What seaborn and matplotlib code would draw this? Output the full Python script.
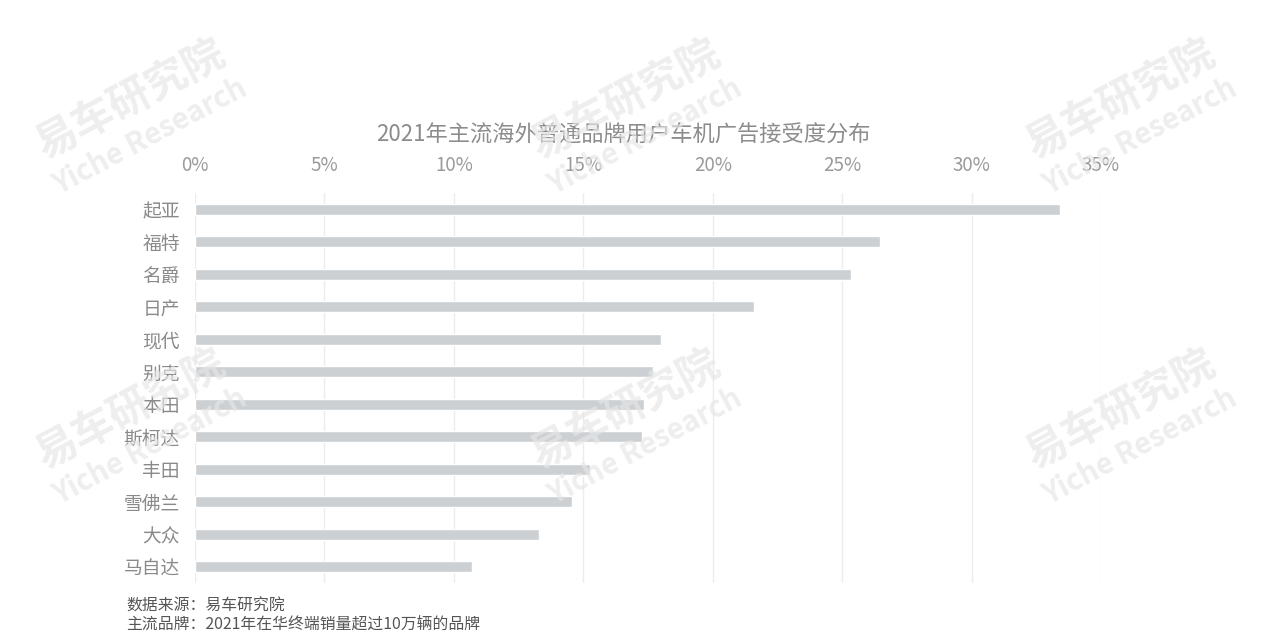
import matplotlib
matplotlib.use("Agg")
import matplotlib.pyplot as plt
import seaborn as sns
import pandas as pd

# data
brands = ["起亚", "福特", "名爵", "日产", "现代", "别克", "本田", "斯柯达", "丰田", "雪佛兰", "大众", "马自达"]
share = [33.4, 26.45, 25.35, 21.6, 18.0, 17.7, 17.35, 17.25, 15.25, 14.55, 13.3, 10.7]
ticks = [0, 5, 10, 15, 20, 25, 30, 35]
tick_labels = ["0%", "5%", "10%", "15%", "20%", "25%", "30%", "35%"]

df = pd.DataFrame({"brand": brands, "share": share})

sns.set_style("white")
plt.rcParams["font.family"] = ["Noto Sans CJK SC", "DejaVu Sans"]

fig = plt.figure(figsize=(12.69, 6.42), dpi=100)
ax = fig.add_axes([195 / 1269, 1 - 583 / 642, (1101 - 195) / 1269, (583 - 193) / 642])

sns.barplot(data=df, x="share", y="brand", color="#cdd0d3", saturation=1, width=0.34, ax=ax, zorder=2)

ax.set_xlim(0, 35)
ax.set_xticks(ticks)
ax.set_xticklabels(tick_labels)
ax.xaxis.tick_top()
ax.tick_params(axis="x", length=0, pad=12, labelsize=13.5, labelcolor="#9a9a9a")
ax.tick_params(axis="y", length=0, pad=11, labelsize=13.5, labelcolor="#8a8a8a")
ax.grid(axis="x", color="#ececec", linewidth=1, zorder=0)
ax.set_axisbelow(True)
ax.set_xlabel("")
ax.set_ylabel("")
for s in ax.spines.values():
    s.set_visible(False)

fig.text(623 / 1269, 1 - 135 / 642, "2021年主流海外普通品牌用户车机广告接受度分布",
         ha="center", va="center", fontsize=16, color="#8c8c8c")

fig.text(126 / 1269, 1 - 606 / 642, "数据来源：易车研究院", ha="left", va="center", fontsize=11.4, color="#555555")
fig.text(126 / 1269, 1 - 624 / 642, "主流品牌：2021年在华终端销量超过10万辆的品牌", ha="left", va="center", fontsize=11.4, color="#555555")

# watermark, semi transparent on top of everything
for wx, wy in [(130, 100), (625, 100), (1120, 100), (130, 410), (625, 410), (1120, 410)]:
    fig.text(wx / 1269, 1 - wy / 642, "易车研究院", ha="center", va="center", rotation=28,
             rotation_mode="anchor", fontsize=30, fontweight="bold", color="#e6e6e6", alpha=0.68, zorder=10)
    fig.text((wx + 20) / 1269, 1 - (wy + 37) / 642, "Yiche Research", ha="center", va="center", rotation=28,
             rotation_mode="anchor", fontsize=21, fontweight="bold", color="#e6e6e6", alpha=0.68, zorder=10)

fig.savefig("out.png", dpi=100)
